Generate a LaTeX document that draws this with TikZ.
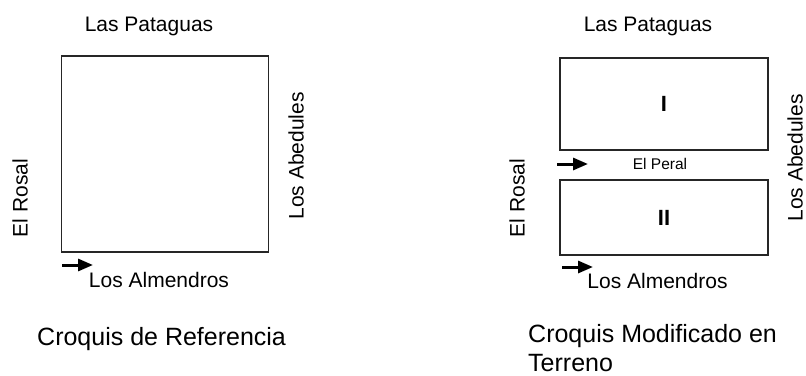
\documentclass[tikz,border=0pt]{standalone}
\usepackage{fontspec}
\setmainfont{Liberation Sans}
\usetikzlibrary{arrows.meta}

\begin{document}
\begin{tikzpicture}[x=1pt,y=-1pt,
    lote/.style={draw=black!85,line width=1.8pt,inner sep=0pt,font=\fontsize{22}{26}\selectfont\bfseries},
    calle/.style={inner sep=0pt,font=\fontsize{21}{25}\selectfont},
    pasaje/.style={inner sep=0pt,font=\fontsize{15.5}{18}\selectfont},
    titulo/.style={inner sep=0pt,anchor=base west,align=left,font=\fontsize{25}{29}\selectfont},
    sentido/.style={line width=3pt,-{Triangle[length=15pt,width=12pt]}}]
    \useasboundingbox (0,0) rectangle (806,375);
    % croquis de referencia
    \node[lote,minimum width=207pt,minimum height=196pt] (L) at (165,154) {};
    \node[calle,anchor=base] (LP) at (149,31.5) {Las Pataguas};
    \node[calle,anchor=base] (LA) at (159,287) {Los Almendros};
    \node[calle,rotate=90] (LR) at (20,198) {El Rosal};
    \node[calle,rotate=90] (LB) at (296,156) {Los Abedules};
    \coordinate (LS) at (62,265);
    \coordinate (LE) at (93,265);
    \draw[sentido] (LS) -- (LE);
    \node[titulo] (LT) at (37,345) {Croquis de Referencia};
    % croquis modificado
    \node[lote,minimum width=208pt,minimum height=92pt] (M1) at (664,104) {I};
    \node[lote,minimum width=208pt,minimum height=75pt] (M2) at (664,217.5) {II};
    \node[calle,anchor=base] (MP) at (648,31.5) {Las Pataguas};
    \node[calle,anchor=base] (MA) at (657.5,288) {Los Almendros};
    \node[pasaje,anchor=base] (ME) at (660,169) {El Peral};
    \node[calle,rotate=90] (MR) at (517,198) {El Rosal};
    \node[calle,rotate=90] (MB) at (795,158) {Los Abedules};
    \coordinate (MS1) at (557,164);
    \coordinate (ME1) at (588,164);
    \coordinate (MS2) at (562,267);
    \coordinate (ME2) at (593,267);
    \draw[sentido] (MS1) -- (ME1);
    \draw[sentido] (MS2) -- (ME2);
    \node[titulo] (MT) at (528,371) {Croquis Modificado en\\Terreno};
\end{tikzpicture}
\end{document}
